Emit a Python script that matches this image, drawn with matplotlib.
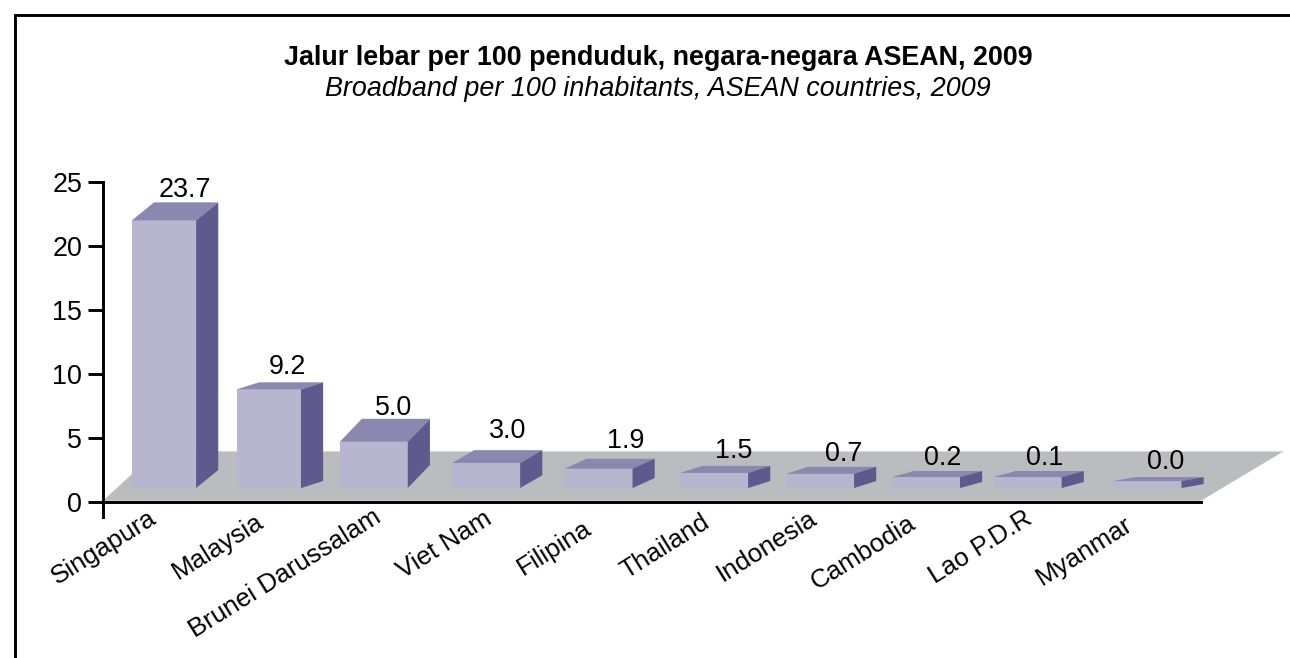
import matplotlib
matplotlib.use('Agg')
import matplotlib.pyplot as plt
from matplotlib.lines import Line2D
from matplotlib.patches import Polygon

plt.rcParams['font.family'] = ['Liberation Sans', 'DejaVu Sans']

countries = ['Singapura', 'Malaysia', 'Brunei Darussalam', 'Viet Nam', 'Filipina',
             'Thailand', 'Indonesia', 'Cambodia', 'Lao P.D.R', 'Myanmar']
values = ['23.7', '9.2', '5.0', '3.0', '1.9', '1.5', '0.7', '0.2', '0.1', '0.0']
# height of the front face on the y axis as drawn in the picture (not the same as the printed value)
drawn_top = [22.0, 8.8, 4.7, 3.05, 2.6, 2.27, 2.2, 1.95, 1.95, 1.64]
drawn_depth = [1.41, 0.55, 1.8, 1.0, 0.78, 0.55, 0.55, 0.47, 0.47, 0.31]
yticks = [0, 5, 10, 15, 20, 25]

W, H = 1290, 658
FRONT, TOP, SIDE, FLOOR = '#b8b6cf', '#8a88ae', '#5e5a8e', '#bbbcbf'
FS = 19.4

# layout, category units (107 px each)
bar_x = [0, 0.98, 1.96, 3.01, 4.06, 5.14, 6.13, 7.12, 8.07, 9.19]
bar_w = [0.6, 0.6, 0.636, 0.636, 0.636, 0.636, 0.636, 0.636, 0.636, 0.636]
text_x = [0.196, 1.15, 2.15, 3.21, 4.31, 5.32, 6.35, 7.28, 8.23, 9.36]
text_y = [23.83, 10.0, 6.8, 5.0, 4.22, 3.44, 3.2, 2.89, 2.89, 2.58]
label_x = [-0.15, 0.85, 1.95, 2.985, 3.92, 5.02, 6.02, 6.94, 8.03, 8.97]
label_pad = [2.5, 5, 1.8, 3.5, 10, 5.5, 3.1, 6.5, 3.1, 7.2]
base = 1.09
dx = 0.207

fig = plt.figure(figsize=(W / 100, H / 100), dpi=100)
ax = fig.add_axes([103 / W, 1 - 502 / H, (1201 - 103) / W, (502 - 182) / H])
ax.set_xlim(-0.57, 9.69)
ax.set_ylim(0, 25)
ax.patch.set_visible(False)

# floor of the fake 3D chart
ax.add_patch(Polygon([(-0.57, 0.1), (-0.07, 3.95), (10.46, 3.95), (9.69, 0.1)],
                     color=FLOOR, lw=0, clip_on=False, zorder=1))

tops = [t - base for t in drawn_top]
ax.bar(bar_x, tops, width=bar_w, bottom=base, color=FRONT, zorder=3)
for i, x in enumerate(bar_x):
    l = x - bar_w[i] / 2
    r = x + bar_w[i] / 2
    t = drawn_top[i]
    d = drawn_depth[i]
    ax.fill([l, l + dx, r + dx, r], [t, t + d, t + d, t], color=TOP, lw=0, clip_on=False, zorder=3)
    ax.fill([r, r + dx, r + dx, r], [t, t + d, base + d, base], color=SIDE, lw=0, clip_on=False, zorder=3)
    ax.text(text_x[i], text_y[i], values[i], ha='center', va='baseline', fontsize=FS, color='black', zorder=5)

for s in ['top', 'right']:
    ax.spines[s].set_visible(False)
ax.spines['left'].set_linewidth(2.1)
ax.spines['left'].set_bounds(-1.2, 25)
ax.spines['bottom'].set_linewidth(2.1)
ax.spines['left'].set_zorder(6)
ax.spines['bottom'].set_zorder(6)

ax.set_yticks(yticks)
ax.tick_params(axis='y', length=11, width=2.1, pad=4, labelsize=FS)
ax.set_xticks(label_x, countries, rotation=32, ha='right', rotation_mode='anchor', fontsize=18.7)
ax.tick_params(axis='x', length=0)
for tick, p in zip(ax.xaxis.get_major_ticks(), label_pad):
    tick.set_pad(p)

fig.text(658 / W, 1 - 65 / H, 'Jalur lebar per 100 penduduk, negara-negara ASEAN, 2009',
         ha='center', va='baseline', fontsize=19.35, fontweight='bold')
fig.text(658 / W, 1 - 96 / H, 'Broadband per 100 inhabitants, ASEAN countries, 2009',
         ha='center', va='baseline', fontsize=19.35, style='italic')

# outer frame runs off the right and bottom of the image
fig.add_artist(Line2D([14.5 / W, 14.5 / W, 1], [0, 1 - 14.5 / H, 1 - 14.5 / H], color='black',
                      lw=2.1, solid_joinstyle='miter'))

fig.savefig('out.png', dpi=100)
